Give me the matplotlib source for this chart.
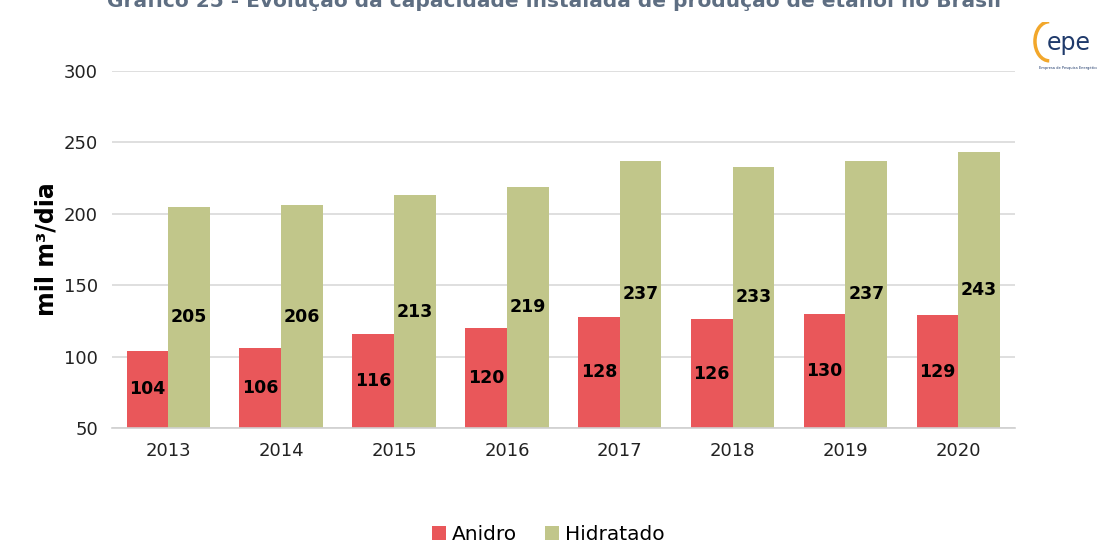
import matplotlib
matplotlib.use("Agg")
import matplotlib.pyplot as plt
import numpy as np
from matplotlib.patches import Arc

years = ["2013", "2014", "2015", "2016", "2017", "2018", "2019", "2020"]
anidro = [104, 106, 116, 120, 128, 126, 130, 129]
hidratado = [205, 206, 213, 219, 237, 233, 237, 243]
y_ticks = [50, 100, 150, 200, 250, 300]

red = "#E9575A"
green = "#C1C68A"

fig = plt.figure(figsize=(10.97, 5.43), dpi=100)
ax = fig.add_axes([0.102, 0.2118, 0.823, 0.6574])

x = np.arange(len(years))
w = 0.37
b1 = ax.bar(x - w / 2, [v - 50 for v in anidro], w, bottom=50, color=red, label="Anidro", zorder=2)
b2 = ax.bar(x + w / 2, [v - 50 for v in hidratado], w, bottom=50, color=green, label="Hidratado", zorder=2)

for xi, v in zip(x, anidro):
    ax.text(xi - w / 2, (50 + v) / 2, str(v), ha="center", va="center",
            fontsize=12.5, fontweight="bold", color="black", zorder=3)
for xi, v in zip(x, hidratado):
    ax.text(xi + w / 2, (50 + v) / 2, str(v), ha="center", va="center",
            fontsize=12.5, fontweight="bold", color="black", zorder=3)

ax.set_xlim(-0.5, len(years) - 0.5)
ax.set_ylim(50, 300)
ax.set_yticks(y_ticks)
ax.set_xticks(x)
ax.set_xticklabels(years)
ax.tick_params(axis="both", length=0, labelsize=13, colors="#222222", pad=10)
ax.yaxis.grid(True, color="#d9d9d9", linewidth=1.2, zorder=0)
for s in ["top", "right", "left"]:
    ax.spines[s].set_visible(False)
ax.spines["bottom"].set_color("#d0d0d0")
ax.spines["bottom"].set_linewidth(1.2)
ax.set_ylabel("mil m³/dia", fontsize=17, fontweight="bold", labelpad=4)

fig.legend(handles=[b1, b2], loc="lower center", bbox_to_anchor=(0.5, -0.035),
           ncol=2, frameon=False, fontsize=14.5, handlelength=0.7, handleheight=0.7,
           handletextpad=0.3, columnspacing=1.4)

# title, partly cut off at the top like in the source image
fig.text(0.505, 0.988, "Gráfico 25 - Evolução da capacidade instalada de produção de etanol no Brasil",
         ha="center", va="baseline", fontsize=14.5, fontweight="bold", color="#5E6E82")

# logo
lax = fig.add_axes([0.935, 0.87, 0.065, 0.09])
lax.set_xlim(0, 1)
lax.set_ylim(0, 1)
lax.axis("off")
lax.add_patch(Arc((0.33, 0.6), 0.4, 0.8, theta1=90, theta2=270, color="#F2A72B", lw=2.5))
lax.text(0.6, 0.57, "epe", ha="center", va="center", fontsize=17, color="#1F3A6B")
lax.text(0.6, 0.06, "Empresa de Pesquisa Energética", ha="center", va="center",
         fontsize=2.6, color="#1F3A6B")

fig.savefig("out.png", dpi=100)
